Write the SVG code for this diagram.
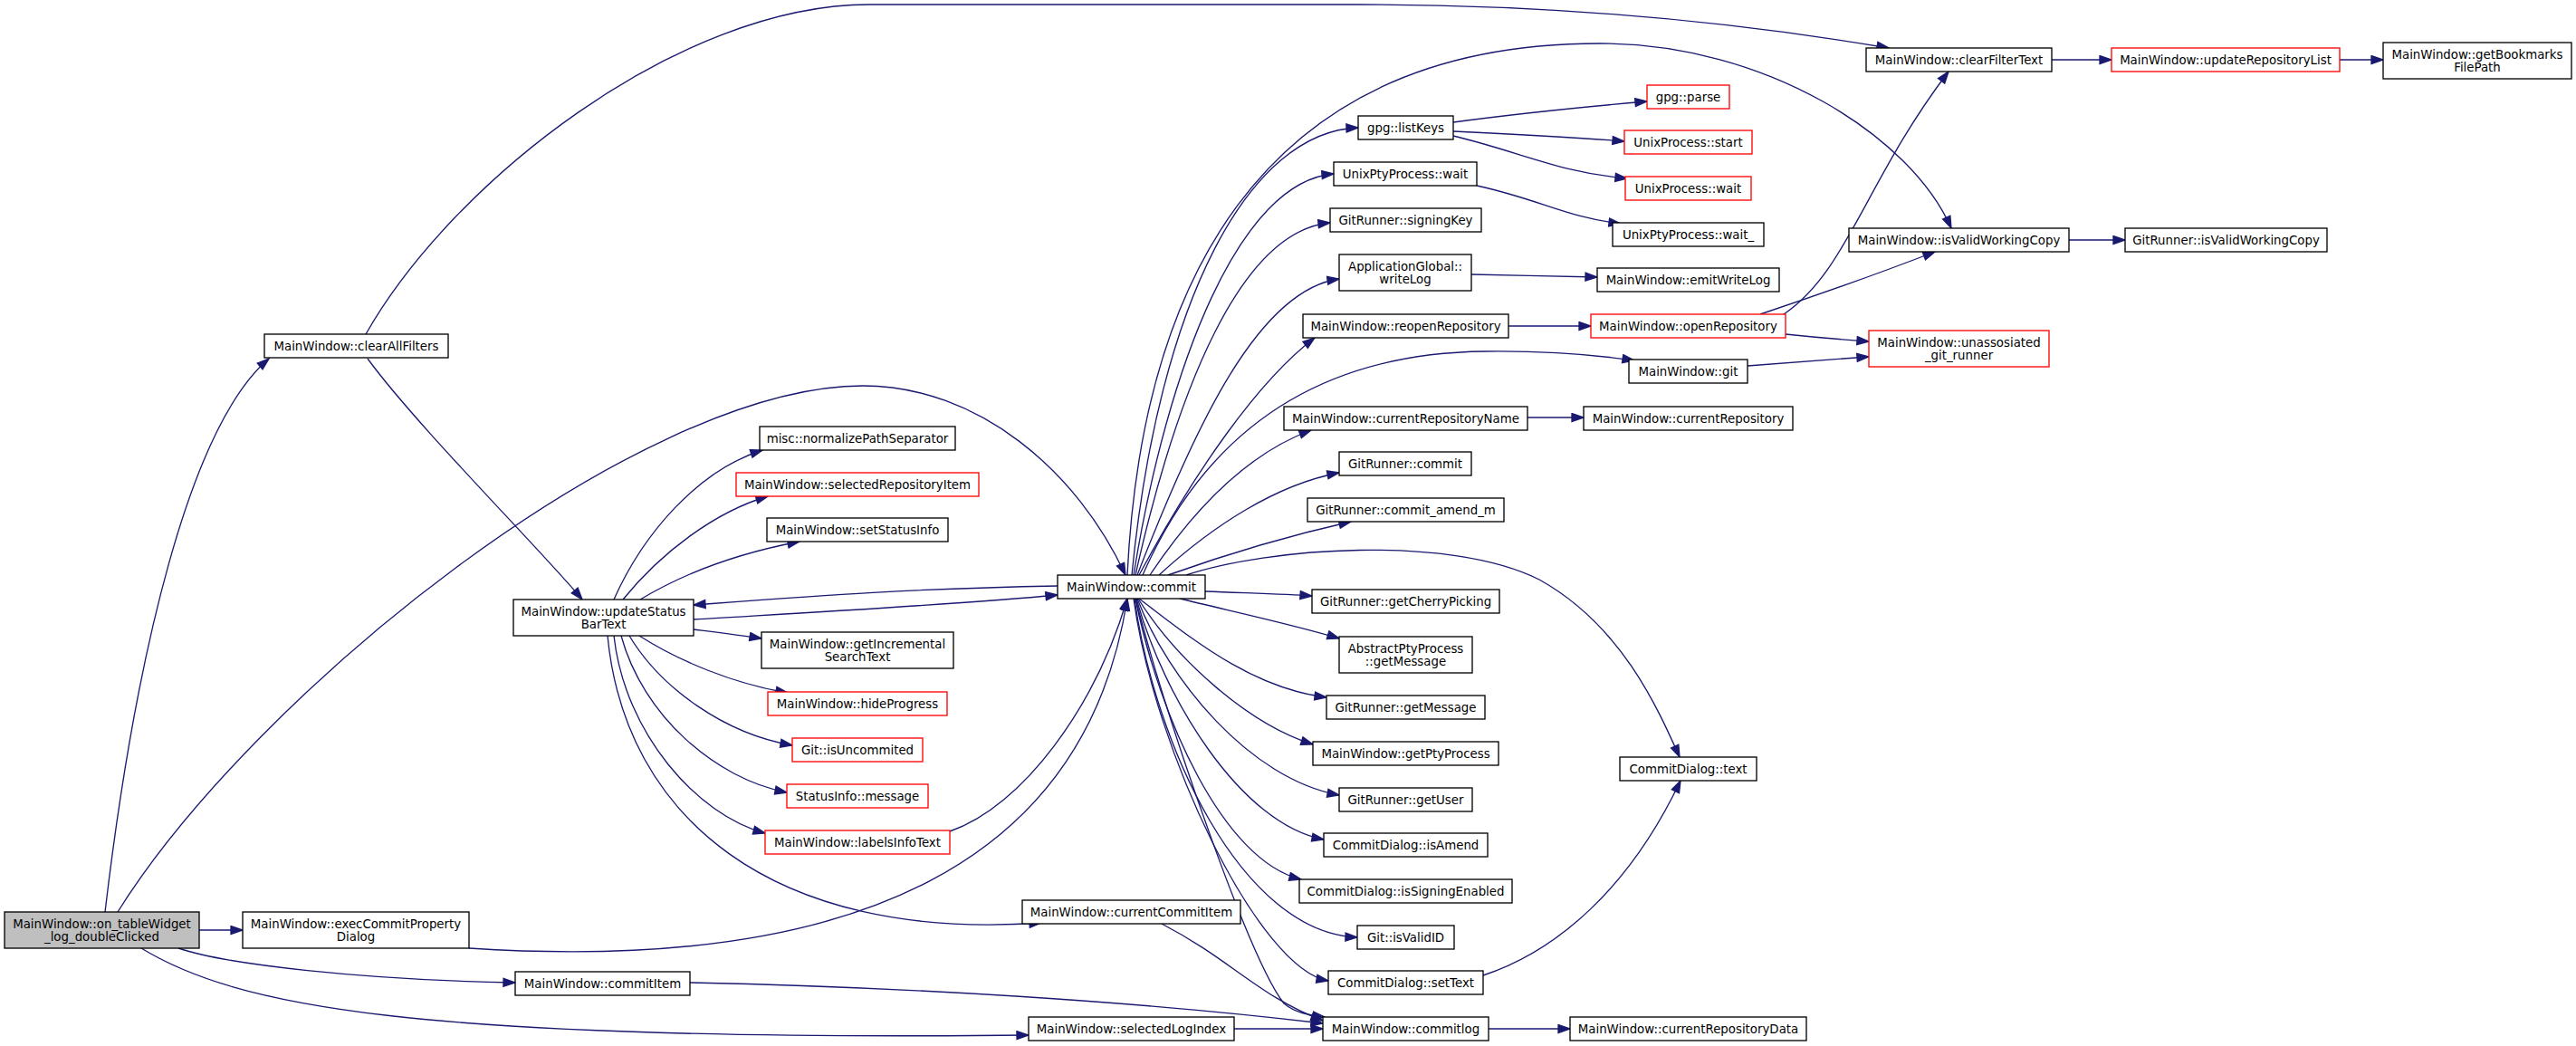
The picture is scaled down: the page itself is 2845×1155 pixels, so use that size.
<svg xmlns="http://www.w3.org/2000/svg" width="2845" height="1155" viewBox="0 0 2845 1155">
<defs>
<style>
.n rect{fill:#ffffff;stroke:#000000;stroke-width:1.33}
.r rect{stroke:#ff0000}
.root rect{fill:#bfbfbf}
text{font-family:"DejaVu Sans","Liberation Sans",sans-serif;font-size:13.33px;text-anchor:middle;fill:#000000}
.e path{fill:none;stroke:#191970;stroke-width:1.33;marker-end:url(#a)}
</style>
<marker id="a" markerUnits="userSpaceOnUse" markerWidth="16" markerHeight="12" viewBox="0 0 16 12" refX="14" refY="5.5" orient="auto">
<path d="M1,1 L14,5.5 L1,10 z" fill="#191970" stroke="#191970" stroke-width="1.33"/>
</marker>
</defs>
<rect x="0" y="0" width="2845" height="1155" fill="#ffffff"/>
<g id="edges" class="e">
<path d="M116,1007 C150,720 210,470 297,396"/>
<path d="M130,1007 C280,767 703,426 953,426 C1080,426 1190,520 1243,635"/>
<path d="M220,1027 L268,1027"/>
<path d="M197,1047 C250,1065 400,1082 569,1085"/>
<path d="M156,1047 C260,1110 450,1150 1136,1143"/>
<path d="M404,369 C500,200 750,5 960,5 L1500,5 C1750,5 1950,30 2086,53"/>
<path d="M406,396 C460,470 600,610 643,662"/>
<path d="M518,1047 C950,1075 1200,950 1245,661"/>
<path d="M1049,918 C1130,890 1210,780 1245,661"/>
<path d="M762,1085 C1000,1090 1250,1105 1461,1130"/>
<path d="M1363,1136 L1461,1136"/>
<path d="M1283,1020 C1360,1060 1390,1100 1461,1127"/>
<path d="M1254,661 C1290,800 1380,1060 1418,1108 C1430,1118 1445,1121 1463,1123"/>
<path d="M678,662 C710,590 770,520 842,497"/>
<path d="M688,662 C730,610 790,565 848,548"/>
<path d="M707,662 C760,630 820,610 883,598"/>
<path d="M766,684 C900,676 1050,668 1168,657"/>
<path d="M1168,647 C1000,650 900,658 766,668"/>
<path d="M766,695 C790,698 815,701 841,705"/>
<path d="M706,702 C750,730 810,755 870,765"/>
<path d="M695,702 C730,760 800,810 875,823"/>
<path d="M686,702 C710,790 790,860 869,875"/>
<path d="M678,702 C690,810 770,900 845,920"/>
<path d="M671,702 C690,900 850,1040 1150,1019"/>
<path d="M1245,635 C1260,330 1380,48 1767,48 C1950,48 2110,150 2155,252"/>
<path d="M1250,635 C1280,330 1380,145 1500,141"/>
<path d="M1252,635 C1290,400 1370,200 1473,192"/>
<path d="M1254,635 C1300,430 1370,255 1469,246"/>
<path d="M1256,635 C1320,470 1390,320 1479,308"/>
<path d="M1258,635 C1320,520 1390,420 1452,373"/>
<path d="M1262,635 C1330,480 1450,390 1640,388 C1720,387 1770,393 1805,398"/>
<path d="M1270,635 C1320,560 1380,500 1448,475"/>
<path d="M1280,635 C1340,580 1410,535 1479,522"/>
<path d="M1290,635 C1360,610 1430,590 1492,576"/>
<path d="M1310,635 C1400,605 1600,590 1700,640 C1790,690 1830,780 1855,836"/>
<path d="M1331,653 C1380,655 1420,656 1449,658"/>
<path d="M1303,661 C1360,675 1430,690 1479,705"/>
<path d="M1258,661 C1310,700 1380,760 1465,770"/>
<path d="M1257,661 C1300,730 1380,800 1450,822"/>
<path d="M1256,661 C1290,750 1380,860 1479,878"/>
<path d="M1255,661 C1285,770 1370,910 1462,927"/>
<path d="M1254,661 C1280,790 1350,950 1437,971"/>
<path d="M1253,661 C1275,820 1370,1030 1499,1035"/>
<path d="M1252,661 C1275,830 1390,1070 1467,1083"/>
<path d="M1605,135 C1680,125 1750,118 1819,112"/>
<path d="M1605,145 C1670,148 1730,151 1794,156"/>
<path d="M1605,150 C1680,168 1720,190 1797,197"/>
<path d="M1631,205 C1700,220 1730,240 1790,247"/>
<path d="M1625,303 C1670,304 1720,305 1764,306"/>
<path d="M1666,360 L1757,360"/>
<path d="M1970,347 C2040,300 2060,200 2152,79"/>
<path d="M1944,347 C2010,325 2080,300 2137,278"/>
<path d="M1972,369 C2000,372 2035,375 2064,377"/>
<path d="M1930,404 C1980,400 2020,397 2064,394"/>
<path d="M1687,461 L1749,461"/>
<path d="M2266,66 L2332,66"/>
<path d="M2584,66 L2632,66"/>
<path d="M2285,265 L2347,265"/>
<path d="M1644,1136 L1734,1136"/>
<path d="M1638,1077 C1720,1050 1800,980 1856,862"/>
</g>
<g id="n_root" class="n root"><rect x="5" y="1007" width="215" height="40"/><text x="112.5" y="1024.5">MainWindow::on_tableWidget</text><text x="112.5" y="1039">_log_doubleClicked</text></g>
<g id="n_clearAllFilters" class="n"><rect x="292" y="369" width="203" height="26"/><text x="393.5" y="386.8">MainWindow::clearAllFilters</text></g>
<g id="n_execCommitPropertyDialog" class="n"><rect x="268" y="1007" width="250" height="40"/><text x="393" y="1024.5">MainWindow::execCommitProperty</text><text x="393" y="1039">Dialog</text></g>
<g id="n_commitItem" class="n"><rect x="569" y="1073" width="193" height="26"/><text x="665.5" y="1090.8">MainWindow::commitItem</text></g>
<g id="n_selectedLogIndex" class="n"><rect x="1136" y="1123" width="227" height="26"/><text x="1249.5" y="1140.8">MainWindow::selectedLogIndex</text></g>
<g id="n_commit" class="n"><rect x="1168" y="635" width="163" height="26"/><text x="1249.5" y="652.8">MainWindow::commit</text></g>
<g id="n_updateStatusBarText" class="n"><rect x="567" y="662" width="199" height="40"/><text x="666.5" y="679.5">MainWindow::updateStatus</text><text x="666.5" y="694">BarText</text></g>
<g id="n_clearFilterText" class="n"><rect x="2061" y="53" width="205" height="26"/><text x="2163.5" y="70.8">MainWindow::clearFilterText</text></g>
<g id="n_updateRepositoryList" class="n r"><rect x="2332" y="53" width="252" height="26"/><text x="2458" y="70.8">MainWindow::updateRepositoryList</text></g>
<g id="n_getBookmarksFilePath" class="n"><rect x="2632" y="47" width="208" height="40"/><text x="2736" y="64.5">MainWindow::getBookmarks</text><text x="2736" y="79">FilePath</text></g>
<g id="n_isValidWorkingCopy" class="n"><rect x="2042" y="252" width="243" height="26"/><text x="2163.5" y="269.8">MainWindow::isValidWorkingCopy</text></g>
<g id="n_GitRunner_isValidWorkingCopy" class="n"><rect x="2347" y="252" width="223" height="26"/><text x="2458.5" y="269.8">GitRunner::isValidWorkingCopy</text></g>
<g id="n_unassosiated_git_runner" class="n r"><rect x="2064" y="365" width="199" height="40"/><text x="2163.5" y="382.5">MainWindow::unassosiated</text><text x="2163.5" y="397">_git_runner</text></g>
<g id="n_listKeys" class="n"><rect x="1500" y="128" width="105" height="26"/><text x="1552.5" y="145.8">gpg::listKeys</text></g>
<g id="n_gpg_parse" class="n r"><rect x="1819" y="94" width="91" height="26"/><text x="1864.5" y="111.8">gpg::parse</text></g>
<g id="n_UnixProcess_start" class="n r"><rect x="1794" y="144" width="141" height="26"/><text x="1864.5" y="161.8">UnixProcess::start</text></g>
<g id="n_UnixPtyProcess_wait" class="n"><rect x="1473" y="179" width="158" height="26"/><text x="1552" y="196.8">UnixPtyProcess::wait</text></g>
<g id="n_UnixProcess_wait" class="n r"><rect x="1795" y="195" width="139" height="26"/><text x="1864.5" y="212.8">UnixProcess::wait</text></g>
<g id="n_signingKey" class="n"><rect x="1469" y="230" width="167" height="26"/><text x="1552.5" y="247.8">GitRunner::signingKey</text></g>
<g id="n_wait_" class="n"><rect x="1781" y="246" width="167" height="26"/><text x="1864.5" y="263.8">UnixPtyProcess::wait_</text></g>
<g id="n_writeLog" class="n"><rect x="1479" y="281" width="146" height="40"/><text x="1552" y="298.5">ApplicationGlobal::</text><text x="1552" y="313">writeLog</text></g>
<g id="n_emitWriteLog" class="n"><rect x="1764" y="296" width="201" height="26"/><text x="1864.5" y="313.8">MainWindow::emitWriteLog</text></g>
<g id="n_reopenRepository" class="n"><rect x="1439" y="347" width="227" height="26"/><text x="1552.5" y="364.8">MainWindow::reopenRepository</text></g>
<g id="n_openRepository" class="n r"><rect x="1757" y="347" width="215" height="26"/><text x="1864.5" y="364.8">MainWindow::openRepository</text></g>
<g id="n_git" class="n"><rect x="1799" y="397" width="131" height="26"/><text x="1864.5" y="414.8">MainWindow::git</text></g>
<g id="n_currentRepositoryName" class="n"><rect x="1418" y="449" width="269" height="26"/><text x="1552.5" y="466.8">MainWindow::currentRepositoryName</text></g>
<g id="n_currentRepository" class="n"><rect x="1749" y="449" width="231" height="26"/><text x="1864.5" y="466.8">MainWindow::currentRepository</text></g>
<g id="n_GitRunner_commit" class="n"><rect x="1479" y="499" width="146" height="26"/><text x="1552" y="516.8">GitRunner::commit</text></g>
<g id="n_commit_amend_m" class="n"><rect x="1444" y="550" width="217" height="26"/><text x="1552.5" y="567.8">GitRunner::commit_amend_m</text></g>
<g id="n_getCherryPicking" class="n"><rect x="1449" y="651" width="207" height="26"/><text x="1552.5" y="668.8">GitRunner::getCherryPicking</text></g>
<g id="n_AbstractPtyProcess_getMessage" class="n"><rect x="1479" y="703" width="147" height="40"/><text x="1552.5" y="720.5">AbstractPtyProcess</text><text x="1552.5" y="735">::getMessage</text></g>
<g id="n_GitRunner_getMessage" class="n"><rect x="1465" y="768" width="175" height="26"/><text x="1552.5" y="785.8">GitRunner::getMessage</text></g>
<g id="n_getPtyProcess" class="n"><rect x="1450" y="819" width="205" height="26"/><text x="1552.5" y="836.8">MainWindow::getPtyProcess</text></g>
<g id="n_getUser" class="n"><rect x="1479" y="870" width="147" height="26"/><text x="1552.5" y="887.8">GitRunner::getUser</text></g>
<g id="n_isAmend" class="n"><rect x="1462" y="920" width="181" height="26"/><text x="1552.5" y="937.8">CommitDialog::isAmend</text></g>
<g id="n_isSigningEnabled" class="n"><rect x="1435" y="971" width="235" height="26"/><text x="1552.5" y="988.8">CommitDialog::isSigningEnabled</text></g>
<g id="n_isValidID" class="n"><rect x="1499" y="1022" width="107" height="26"/><text x="1552.5" y="1039.8">Git::isValidID</text></g>
<g id="n_setText" class="n"><rect x="1467" y="1072" width="171" height="26"/><text x="1552.5" y="1089.8">CommitDialog::setText</text></g>
<g id="n_commitlog" class="n"><rect x="1461" y="1123" width="183" height="26"/><text x="1552.5" y="1140.8">MainWindow::commitlog</text></g>
<g id="n_currentRepositoryData" class="n"><rect x="1734" y="1123" width="261" height="26"/><text x="1864.5" y="1140.8">MainWindow::currentRepositoryData</text></g>
<g id="n_CommitDialog_text" class="n"><rect x="1789" y="836" width="151" height="26"/><text x="1864.5" y="853.8">CommitDialog::text</text></g>
<g id="n_normalizePathSeparator" class="n"><rect x="839" y="471" width="216" height="26"/><text x="947" y="488.8">misc::normalizePathSeparator</text></g>
<g id="n_selectedRepositoryItem" class="n r"><rect x="813" y="522" width="268" height="26"/><text x="947" y="539.8">MainWindow::selectedRepositoryItem</text></g>
<g id="n_setStatusInfo" class="n"><rect x="847" y="572" width="200" height="26"/><text x="947" y="589.8">MainWindow::setStatusInfo</text></g>
<g id="n_getIncrementalSearchText" class="n"><rect x="841" y="698" width="212" height="40"/><text x="947" y="715.5">MainWindow::getIncremental</text><text x="947" y="730">SearchText</text></g>
<g id="n_hideProgress" class="n r"><rect x="848" y="764" width="198" height="26"/><text x="947" y="781.8">MainWindow::hideProgress</text></g>
<g id="n_isUncommited" class="n r"><rect x="875" y="815" width="144" height="26"/><text x="947" y="832.8">Git::isUncommited</text></g>
<g id="n_StatusInfo_message" class="n r"><rect x="869" y="866" width="156" height="26"/><text x="947" y="883.8">StatusInfo::message</text></g>
<g id="n_labelsInfoText" class="n r"><rect x="845" y="917" width="204" height="26"/><text x="947" y="934.8">MainWindow::labelsInfoText</text></g>
<g id="n_currentCommitItem" class="n"><rect x="1129" y="994" width="241" height="26"/><text x="1249.5" y="1011.8">MainWindow::currentCommitItem</text></g>
</svg>
